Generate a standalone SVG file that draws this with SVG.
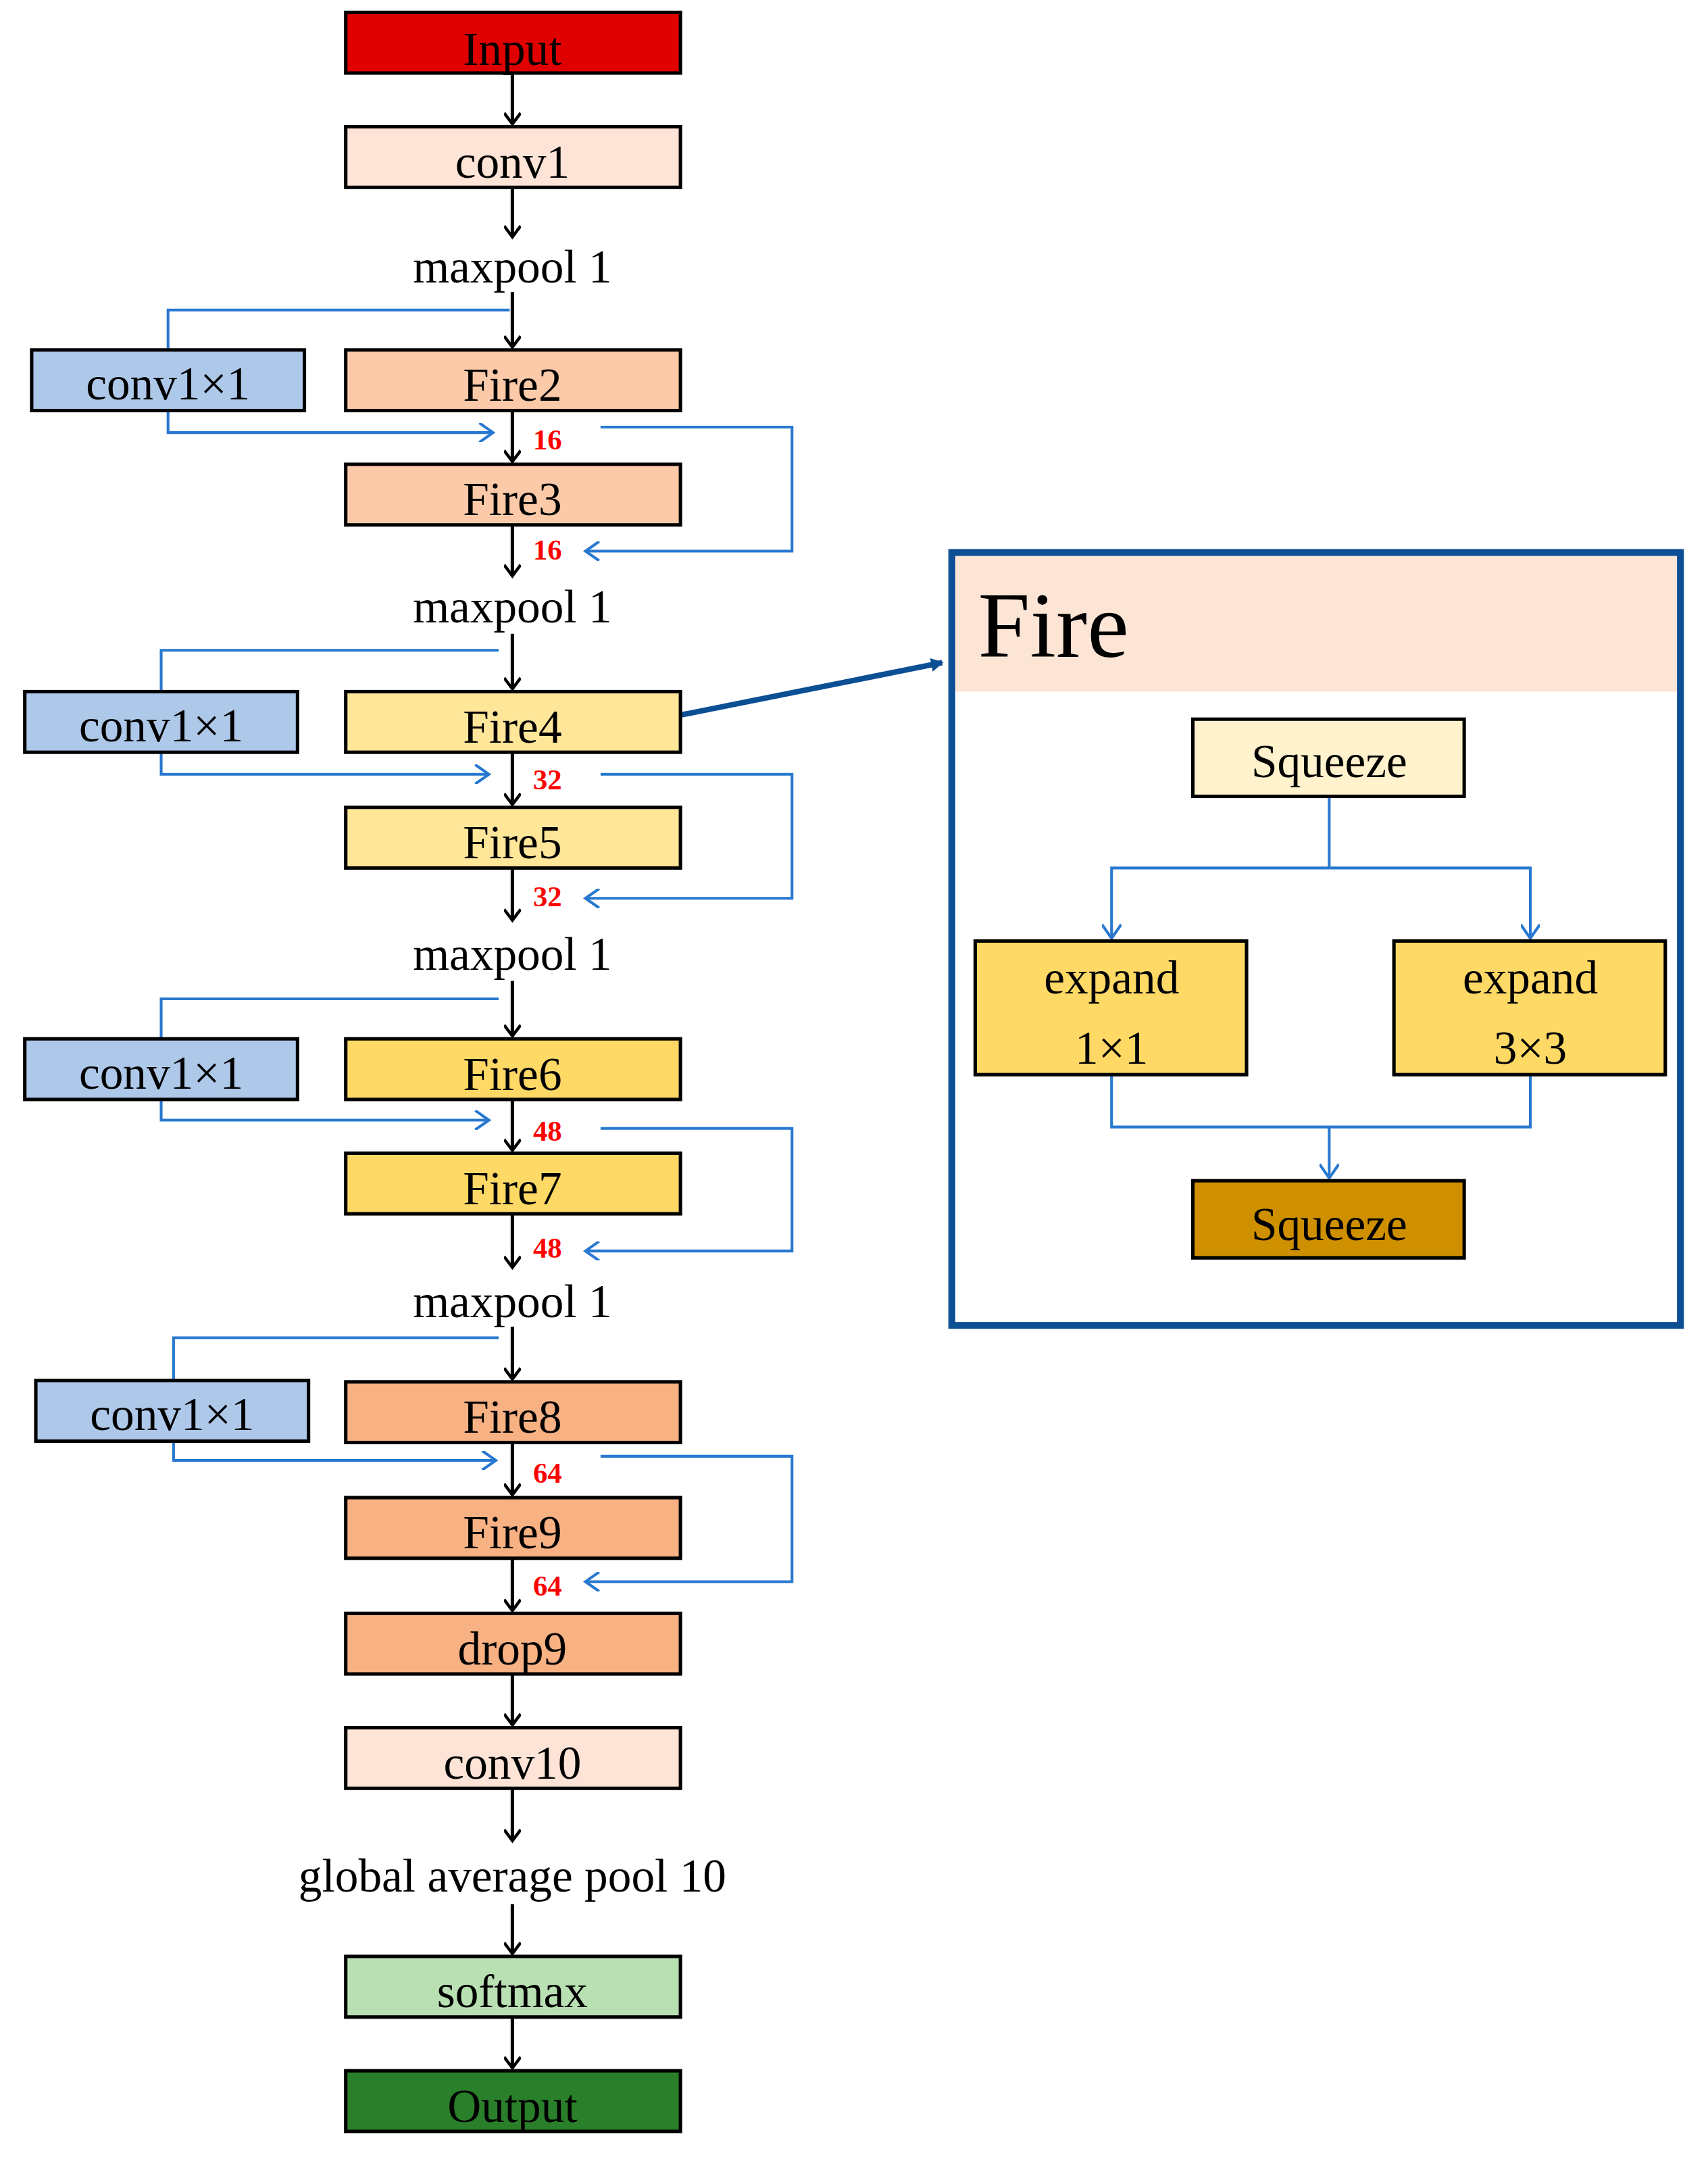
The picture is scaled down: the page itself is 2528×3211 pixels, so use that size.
<svg xmlns="http://www.w3.org/2000/svg" width="2528" height="3211" viewBox="0 0 2528 3211">
<defs>
<marker id="ab" markerWidth="12" markerHeight="12" refX="9" refY="6" orient="auto" markerUnits="userSpaceOnUse"><path d="M1,0 L9,6 L1,12" fill="none" stroke="#000" stroke-width="2.2"/></marker>
<marker id="au" markerWidth="14" markerHeight="14" refX="11" refY="7" orient="auto" markerUnits="userSpaceOnUse"><path d="M1,0 L11,7 L1,14" fill="none" stroke="#2878d0" stroke-width="2"/></marker>
<marker id="ad" markerWidth="10" markerHeight="10" refX="8" refY="5" orient="auto" markerUnits="userSpaceOnUse"><path d="M0,0 L9,5 L0,10 Z" fill="#0d4f94"/></marker>
</defs>
<style>
.b{stroke:#000;stroke-width:2.5}
.t{font-family:"Liberation Serif",serif;font-size:34px;text-anchor:middle;fill:#000}
.n{font-family:"Liberation Serif",serif;font-size:21px;font-weight:bold;fill:#ff0000}
.k{fill:none;stroke:#000;stroke-width:2.5;marker-end:url(#ab)}
.u{fill:none;stroke:#2878d0;stroke-width:2;marker-end:url(#au)}
.l{fill:none;stroke:#2878d0;stroke-width:2}
</style>
<rect width="2528" height="3211" fill="#fff"/>
<g transform="scale(2.0387)">
<g id="connectors">
<path class="k" d="M372,53V90"/><path class="k" d="M372,136V172"/><path class="k" d="M372,212V252"/>
<path class="k" d="M372,298V335"/><path class="k" d="M372,381V418"/><path class="k" d="M372,460V500"/>
<path class="k" d="M372,546V584"/><path class="k" d="M372,630V668"/><path class="k" d="M372,712V752"/>
<path class="k" d="M372,798V835"/><path class="k" d="M372,881V920"/><path class="k" d="M372,963V1001"/>
<path class="k" d="M372,1047V1085"/><path class="k" d="M372,1131V1169"/><path class="k" d="M372,1215V1252"/>
<path class="k" d="M372,1298V1336"/><path class="k" d="M372,1382V1418"/><path class="k" d="M372,1464V1501"/>
<path class="l" d="M122,254V225H370"/><path class="u" d="M122,298V314H358"/><path class="u" d="M436,310H575V400H425"/>
<path class="l" d="M117,502V472H362"/><path class="u" d="M117,546V562H355"/><path class="u" d="M436,562H575V652H425"/>
<path class="l" d="M117,754V725H362"/><path class="u" d="M117,798V813H355"/><path class="u" d="M436,819H575V908H425"/>
<path class="l" d="M126,1002V971H362"/><path class="u" d="M126,1046V1060H360"/><path class="u" d="M436,1057H575V1148H425"/>
<path d="M494,519L684,481" stroke="#0d4f94" stroke-width="4" fill="none" marker-end="url(#ad)"/>
<path class="l" d="M965,578V630"/><path class="u" d="M965,630H807V681"/><path class="u" d="M965,630H1111V681"/>
<path class="l" d="M807,780V818H1111V780"/><path class="u" d="M965,818V855"/>
</g>
<g id="input"><rect class="b" x="251" y="9" width="243" height="44" fill="#e00000"/><text class="t" x="372" y="47">Input</text></g>
<g id="conv1"><rect class="b" x="251" y="92" width="243" height="44" fill="#fde4d6"/><text class="t" x="372" y="129">conv1</text></g>
<g id="mp1"><text class="t" x="372" y="205">maxpool 1</text></g>
<g id="fire2"><rect class="b" x="251" y="254" width="243" height="44" fill="#fccaa8"/><text class="t" x="372" y="291">Fire2</text></g>
<g id="c1"><rect class="b" x="23" y="254" width="198" height="44" fill="#aec8e9"/><text class="t" x="122" y="290">conv1×1</text></g>
<text class="n" x="387" y="326">16</text>
<g id="fire3"><rect class="b" x="251" y="337" width="243" height="44" fill="#fccaa8"/><text class="t" x="372" y="374">Fire3</text></g>
<text class="n" x="387" y="406">16</text>
<g id="mp2"><text class="t" x="372" y="452">maxpool 1</text></g>
<g id="fire4"><rect class="b" x="251" y="502" width="243" height="44" fill="#ffe699"/><text class="t" x="372" y="539">Fire4</text></g>
<g id="c2"><rect class="b" x="18" y="502" width="198" height="44" fill="#aec8e9"/><text class="t" x="117" y="538">conv1×1</text></g>
<text class="n" x="387" y="573">32</text>
<g id="fire5"><rect class="b" x="251" y="586" width="243" height="44" fill="#ffe699"/><text class="t" x="372" y="623">Fire5</text></g>
<text class="n" x="387" y="658">32</text>
<g id="mp3"><text class="t" x="372" y="704">maxpool 1</text></g>
<g id="fire6"><rect class="b" x="251" y="754" width="243" height="44" fill="#ffd966"/><text class="t" x="372" y="791">Fire6</text></g>
<g id="c3"><rect class="b" x="18" y="754" width="198" height="44" fill="#aec8e9"/><text class="t" x="117" y="790">conv1×1</text></g>
<text class="n" x="387" y="828">48</text>
<g id="fire7"><rect class="b" x="251" y="837" width="243" height="44" fill="#ffd966"/><text class="t" x="372" y="874">Fire7</text></g>
<text class="n" x="387" y="913">48</text>
<g id="mp4"><text class="t" x="372" y="956">maxpool 1</text></g>
<g id="fire8"><rect class="b" x="251" y="1003" width="243" height="44" fill="#f8b183"/><text class="t" x="372" y="1040">Fire8</text></g>
<g id="c4"><rect class="b" x="26" y="1002" width="198" height="44" fill="#aec8e9"/><text class="t" x="125" y="1038">conv1×1</text></g>
<text class="n" x="387" y="1076">64</text>
<g id="fire9"><rect class="b" x="251" y="1087" width="243" height="44" fill="#f8b183"/><text class="t" x="372" y="1124">Fire9</text></g>
<text class="n" x="387" y="1158">64</text>
<g id="drop9"><rect class="b" x="251" y="1171" width="243" height="44" fill="#f8b183"/><text class="t" x="372" y="1208">drop9</text></g>
<g id="conv10"><rect class="b" x="251" y="1254" width="243" height="44" fill="#fde4d6"/><text class="t" x="372" y="1291">conv10</text></g>
<g id="gap"><text class="t" x="372" y="1373">global average pool 10</text></g>
<g id="softmax"><rect class="b" x="251" y="1420" width="243" height="44" fill="#b9e0b3"/><text class="t" x="372" y="1457">softmax</text></g>
<g id="output"><rect class="b" x="251" y="1503" width="243" height="44" fill="#2a7f2a"/><text class="t" x="372" y="1540">Output</text></g>
<g id="firepanel">
<rect x="691" y="401" width="529" height="101" fill="#fde5d6"/>
<rect x="691" y="401" width="529" height="561" fill="none" stroke="#0d4f94" stroke-width="5"/>
<text x="710" y="477" font-family="Liberation Serif,serif" font-size="68">Fire</text>
</g>
<g id="squeeze1"><rect class="b" x="866" y="522" width="197" height="56" fill="#fff2cc"/><text class="t" x="965" y="564" font-size="40">Squeeze</text></g>
<g id="exp1"><rect class="b" x="708" y="683" width="197" height="97" fill="#ffd966"/><text class="t" x="807" y="721" font-size="40">expand</text><text class="t" x="807" y="772" font-size="40">1×1</text></g>
<g id="exp3"><rect class="b" x="1012" y="683" width="197" height="97" fill="#ffd966"/><text class="t" x="1111" y="721" font-size="40">expand</text><text class="t" x="1111" y="772" font-size="40">3×3</text></g>
<g id="squeeze2"><rect class="b" x="866" y="857" width="197" height="56" fill="#cf9000"/><text class="t" x="965" y="900" font-size="40">Squeeze</text></g>
</g>
</svg>
